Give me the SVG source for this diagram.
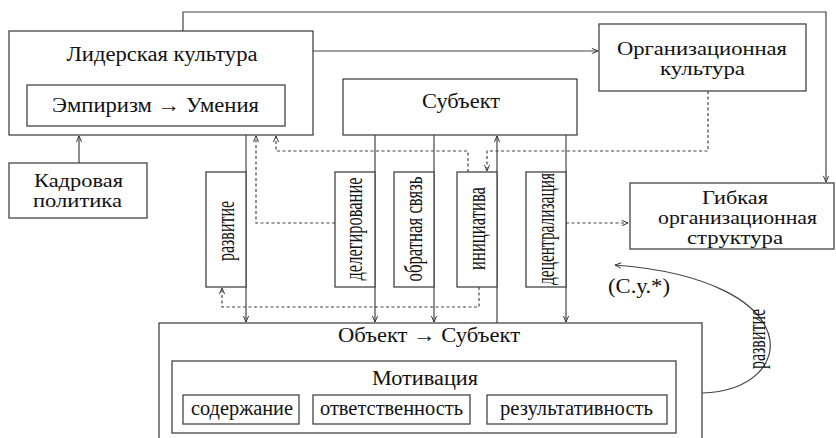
<svg xmlns="http://www.w3.org/2000/svg" width="836" height="438" viewBox="0 0 836 438">
<defs>
<marker id="arr" viewBox="0 0 8 8" refX="8" refY="4" markerWidth="7" markerHeight="7" markerUnits="userSpaceOnUse" orient="auto">
<path d="M1,1 L8,4 L1,7" fill="none" stroke="#333" stroke-width="1.1"/>
</marker>
</defs>
<style>
.box{fill:#fff;stroke:#444;stroke-width:1.3}
.t{font-family:"Liberation Serif","DejaVu Serif",serif;font-size:20px;fill:#111;text-anchor:middle}
.m{font-size:18px}
.v{font-size:25px}
.ln{fill:none;stroke:#444;stroke-width:1.2}
.d{stroke-dasharray:3 2.5}
</style>
<rect width="836" height="438" fill="#fff"/>

<g id="connectors">
<path class="ln" d="M183,31 V12 H826 V182" marker-end="url(#arr)"/>
<path class="ln" d="M313,51 H598" marker-end="url(#arr)"/>
<path class="ln" d="M79,163 V136" marker-end="url(#arr)"/>
<path class="ln" d="M246,135 V322" marker-end="url(#arr)"/>
<path class="ln" d="M375,135 V322" marker-end="url(#arr)"/>
<path class="ln" d="M434,135 V322" marker-end="url(#arr)"/>
<path class="ln" d="M497,323 V136" marker-end="url(#arr)"/>
<path class="ln" d="M566,135 V322" marker-end="url(#arr)"/>
<path class="ln d" d="M335,223 H256 V136" marker-end="url(#arr)"/>
<path class="ln d" d="M468,172 V151 H276 V136" marker-end="url(#arr)"/>
<path class="ln d" d="M708,91 V151 H487 V171" marker-end="url(#arr)"/>
<path class="ln d" d="M479,287 V307 H222 V288" marker-end="url(#arr)"/>
<path class="ln d" d="M566,223 H628" marker-end="url(#arr)"/>
<path class="ln" d="M702,393 C800,390 810,280 615,265" marker-end="url(#arr)"/>
</g>

<g id="leader">
<rect class="box" x="9" y="31" width="304" height="104"/>
<text class="t" x="162" y="61" textLength="191" lengthAdjust="spacingAndGlyphs">Лидерская культура</text>
</g>
<g id="empirism">
<rect class="box" x="27" y="85" width="258" height="41"/>
<text class="t" x="155.5" y="112" textLength="207" lengthAdjust="spacingAndGlyphs">Эмпиризм → Умения</text>
</g>
<g id="org-culture">
<rect class="box" x="599" y="24" width="207" height="67"/>
<text class="t m" x="702" y="55" textLength="170" lengthAdjust="spacingAndGlyphs">Организационная</text>
<text class="t m" x="702.5" y="75" textLength="85" lengthAdjust="spacingAndGlyphs">культура</text>
</g>
<g id="subject">
<rect class="box" x="343" y="79" width="234" height="56"/>
<text class="t" x="461" y="108" textLength="78" lengthAdjust="spacingAndGlyphs">Субъект</text>
</g>
<g id="hr-policy">
<rect class="box" x="9" y="163" width="138" height="55"/>
<text class="t m" x="78.5" y="187" textLength="89" lengthAdjust="spacingAndGlyphs">Кадровая</text>
<text class="t m" x="77.5" y="207" textLength="89" lengthAdjust="spacingAndGlyphs">политика</text>
</g>
<g id="flex-structure">
<rect class="box" x="630" y="183" width="204" height="66"/>
<text class="t m" x="735" y="204" textLength="66" lengthAdjust="spacingAndGlyphs">Гибкая</text>
<text class="t m" x="737.5" y="224" textLength="159" lengthAdjust="spacingAndGlyphs">организационная</text>
<text class="t m" x="735" y="244" textLength="96" lengthAdjust="spacingAndGlyphs">структура</text>
</g>
<g id="razvitie">
<rect class="box" x="206" y="172" width="40" height="115"/>
<text class="t v" transform="translate(234,231) rotate(-90)" x="0" y="0" textLength="60" lengthAdjust="spacingAndGlyphs">развитие</text>
</g>
<g id="delegirovanie">
<rect class="box" x="335" y="172" width="40" height="115"/>
<text class="t v" transform="translate(362,229) rotate(-90)" x="0" y="0" textLength="103" lengthAdjust="spacingAndGlyphs">делегирование</text>
</g>
<g id="feedback">
<rect class="box" x="394" y="172" width="40" height="115"/>
<text class="t v" transform="translate(422,229) rotate(-90)" x="0" y="0" textLength="105" lengthAdjust="spacingAndGlyphs">обратная связь</text>
</g>
<g id="initiative">
<rect class="box" x="457" y="172" width="40" height="115"/>
<text class="t v" transform="translate(485,228.5) rotate(-90)" x="0" y="0" textLength="83" lengthAdjust="spacingAndGlyphs">инициатива</text>
</g>
<g id="decentralization">
<rect class="box" x="526" y="172" width="40" height="115"/>
<text class="t v" transform="translate(554,229) rotate(-90)" x="0" y="0" textLength="112" lengthAdjust="spacingAndGlyphs">децентрализация</text>
</g>
<g id="object-subject">
<rect class="box" x="159" y="323" width="543" height="130"/>
<text class="t" x="429" y="342" textLength="182" lengthAdjust="spacingAndGlyphs">Объект → Субъект</text>
</g>
<g id="motivation">
<rect class="box" x="172" y="361" width="504" height="72"/>
<text class="t" x="425" y="385" textLength="106" lengthAdjust="spacingAndGlyphs">Мотивация</text>
</g>
<g id="content">
<rect class="box" x="183" y="395" width="116" height="29"/>
<text class="t" x="242" y="415" textLength="102" lengthAdjust="spacingAndGlyphs">содержание</text>
</g>
<g id="responsibility">
<rect class="box" x="313" y="395" width="157" height="29"/>
<text class="t" x="391.5" y="415" textLength="143" lengthAdjust="spacingAndGlyphs">ответственность</text>
</g>
<g id="effectiveness">
<rect class="box" x="487" y="395" width="180" height="29"/>
<text class="t" x="576.5" y="415" textLength="153" lengthAdjust="spacingAndGlyphs">результативность</text>
</g>
<g id="loop-labels">
<text class="t" x="639" y="293" textLength="62" lengthAdjust="spacingAndGlyphs">(С.у.*)</text>
<text class="t v" transform="translate(765,339) rotate(-90)" x="0" y="0" textLength="60" lengthAdjust="spacingAndGlyphs">развитие</text>
</g>
</svg>
